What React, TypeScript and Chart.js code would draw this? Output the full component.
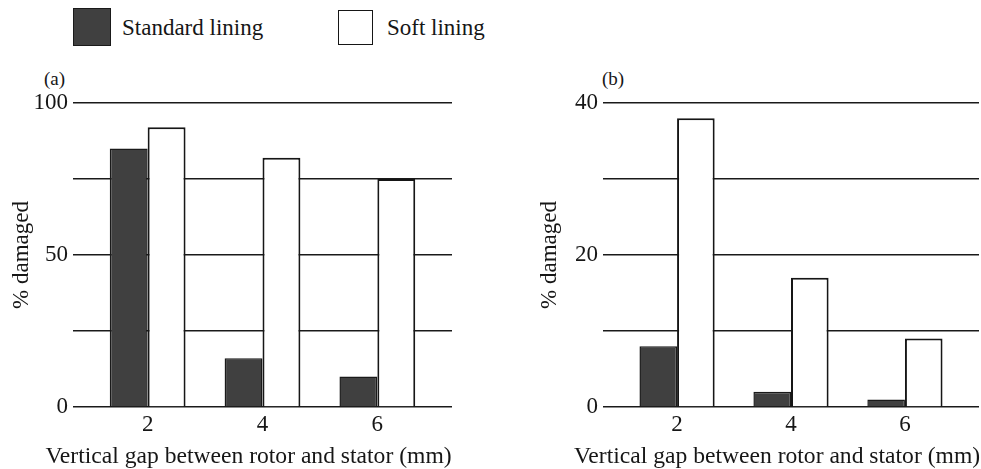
import React, { useEffect, useRef } from 'react';
import { Chart, registerables } from 'chart.js';

Chart.register(...registerables);

const gapValues = [2, 4, 6];
const gapLabels = ['2', '4', '6'];
const standardA = [85, 16, 10];
const softA = [92, 82, 75];
const standardB = [8, 2, 1];
const softB = [38, 17, 9];
const yLabelsA = [0, 50, 100];
const yLabelsB = [0, 20, 40];
const seriesNames = ['Standard lining', 'Soft lining'];
const panelNames = ['(a)', '(b)'];
const xTitle = 'Vertical gap between rotor and stator (mm)';
const yTitle = '% damaged';

const FONT = "'Liberation Serif', 'Times New Roman', serif";
const INK = '#161616';
const DARK = '#404040';

type PanelProps = {
  standard: number[];
  soft: number[];
  yMax: number;
  yStep: number;
  yLabels: number[];
  padLeft: number;
  yWidth: number;
  padRight: number;
  width: number;
  left: number;
};

const xTitlePlugin = {
  id: 'xTitleFree',
  afterDraw(chart: any) {
    const { ctx, chartArea } = chart;
    ctx.save();
    ctx.font = `23.6px ${FONT}`;
    ctx.fillStyle = INK;
    ctx.textAlign = 'center';
    ctx.textBaseline = 'alphabetic';
    ctx.fillText(xTitle, (chartArea.left + chartArea.right) / 2 - 14, chartArea.bottom + 56);
    ctx.restore();
  },
};

function Panel(p: PanelProps) {
  const ref = useRef<HTMLCanvasElement | null>(null);
  useEffect(() => {
    if (!ref.current) return;
    const chart = new Chart(ref.current, {
      type: 'bar',
      data: {
        datasets: [
          {
            label: seriesNames[0],
            data: gapValues.map((x, i) => ({ x, y: p.standard[i] })),
            backgroundColor: DARK,
            borderColor: '#1a1a1a',
            borderWidth: 1.5,
          },
          {
            label: seriesNames[1],
            data: gapValues.map((x, i) => ({ x, y: p.soft[i] })),
            backgroundColor: '#ffffff',
            borderColor: INK,
            borderWidth: 2,
          },
        ],
      } as any,
      options: {
        animation: false,
        responsive: false,
        devicePixelRatio: 1,
        layout: { padding: { left: p.padLeft, right: p.padRight, top: 43, bottom: 0 } },
        plugins: { legend: { display: false }, tooltip: { enabled: false } },
        datasets: { bar: { categoryPercentage: 0.66, barPercentage: 1 } } as any,
        scales: {
          x: {
            type: 'linear',
            min: 0.7,
            max: 7.3,
            offset: false,
            grid: { display: false },
            border: { display: false },
            afterBuildTicks: (s: any) => {
              s.ticks = gapValues.map((v) => ({ value: v }));
            },
            afterFit: (s: any) => {
              s.height = 62;
            },
            ticks: {
              padding: -4,
              color: INK,
              font: { family: FONT, size: 23 },
              callback: (v: any) => {
                const i = gapValues.indexOf(Number(v));
                return i >= 0 ? gapLabels[i] : '';
              },
            },
            title: { display: false, text: xTitle },
          },
          y: {
            min: 0,
            max: p.yMax,
            border: { display: false },
            grid: { color: '#1a1a1a', lineWidth: 1.5, drawTicks: false },
            afterFit: (s: any) => {
              s.width = p.yWidth;
            },
            ticks: {
              stepSize: p.yStep,
              padding: 5,
              color: INK,
              font: { family: FONT, size: 23 },
              callback: (v: any) => (p.yLabels.includes(Number(v)) ? String(v) : ''),
            },
            title: {
              display: true,
              text: yTitle,
              color: INK,
              font: { family: FONT, size: 23 },
              padding: { top: 8, bottom: 0 },
            },
          },
        },
      } as any,
      plugins: [xTitlePlugin],
    });
    return () => chart.destroy();
  }, []);
  return (
    <canvas
      ref={ref}
      width={p.width}
      height={409}
      style={{ position: 'absolute', left: p.left, top: 60, width: p.width, height: 409 }}
    />
  );
}

export default function App() {
  const textStyle: React.CSSProperties = {
    position: 'absolute',
    fontFamily: FONT,
    fontSize: 23,
    lineHeight: '23px',
    color: INK,
    whiteSpace: 'nowrap',
  };
  const panelStyle: React.CSSProperties = {
    position: 'absolute',
    fontFamily: FONT,
    fontSize: 19,
    lineHeight: '19px',
    color: INK,
    whiteSpace: 'nowrap',
  };
  return (
    <div
      style={{
        position: 'absolute',
        left: 0,
        top: 0,
        width: 981,
        height: 469,
        background: '#ffffff',
        overflow: 'hidden',
      }}
    >
      <div
        style={{
          position: 'absolute',
          left: 73,
          top: 8,
          width: 36,
          height: 36,
          background: DARK,
          border: '1px solid #1a1a1a',
        }}
      />
      <div style={{ ...textStyle, left: 122, top: 16 }}>{seriesNames[0]}</div>
      <div
        style={{
          position: 'absolute',
          left: 338,
          top: 10,
          width: 33,
          height: 33,
          background: '#ffffff',
          border: '1.5px solid ' + INK,
        }}
      />
      <div style={{ ...textStyle, left: 387, top: 16 }}>{seriesNames[1]}</div>
      <div style={{ ...panelStyle, left: 44, top: 69 }}>{panelNames[0]}</div>
      <div style={{ ...panelStyle, left: 602, top: 69 }}>{panelNames[1]}</div>
      <Panel
        standard={standardA}
        soft={softA}
        yMax={100}
        yStep={25}
        yLabels={yLabelsA}
        padLeft={0}
        yWidth={73}
        padRight={38}
        width={490}
        left={0}
      />
      <Panel
        standard={standardB}
        soft={softB}
        yMax={40}
        yStep={10}
        yLabels={yLabelsB}
        padLeft={38}
        yWidth={75}
        padRight={2}
        width={491}
        left={490}
      />
    </div>
  );
}
